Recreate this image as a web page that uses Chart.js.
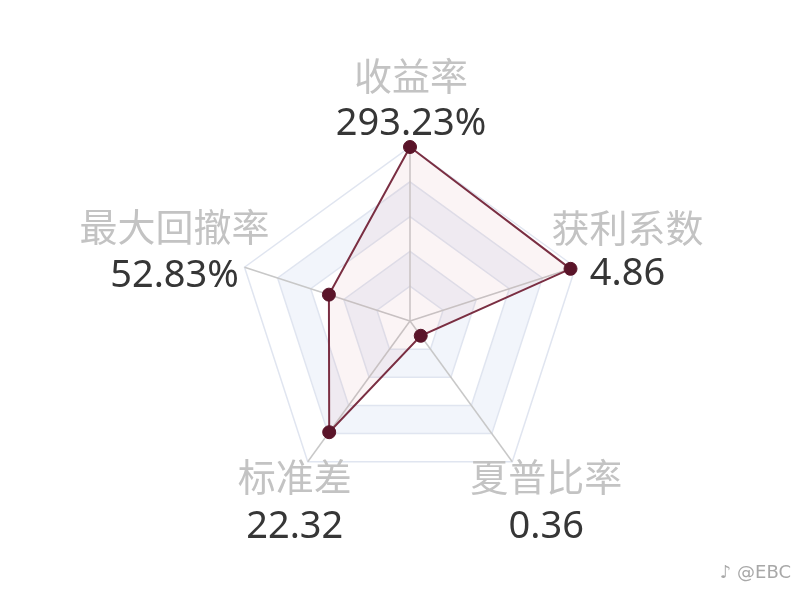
<!DOCTYPE html>
<html>
<head>
<meta charset="utf-8">
<script src="https://cdn.jsdelivr.net/npm/chart.js@4.4.0/dist/chart.umd.min.js"></script>
<style>
    html, body { margin: 0; padding: 0; background: #fff; }
    #wrap { width: 800px; height: 609px; position: relative; }
</style>
</head>
<body>
<div id="wrap"><canvas id="radarChart" width="800" height="609"></canvas></div>
<script>
// ===== DATA =====
const indicatorNames = ['收益率', '获利系数', '夏普比率', '标准差', '最大回撤率'];
const indicatorValues = ['293.23%', '4.86', '0.36', '22.32', '52.83%'];
// where each point sits on its axis, as a share of the outer ring (0-100)
const radarScores = [100, 97, 10.5, 79, 49];
const ringTicks = [0, 20, 40, 60, 80, 100];

// ===== PLUGINS =====
// Alternating bands between the rings (drawn under the grid)
const splitAreaPlugin = {
    id: 'splitArea',
    beforeDraw(chart) {
        const scale = chart.scales.r;
        const ctx = chart.ctx;
        const n = chart.data.labels.length;
        ctx.save();
        for (let k = ringTicks.length - 1; k > 0; k--) {
            ctx.beginPath();
            for (let i = 0; i < n; i++) {
                const p = scale.getPointPositionForValue(i, ringTicks[k]);
                if (i === 0) ctx.moveTo(p.x, p.y); else ctx.lineTo(p.x, p.y);
            }
            ctx.closePath();
            ctx.fillStyle = (k % 2 === 0) ? '#f2f5fb' : '#ffffff';
            ctx.fill();
        }
        ctx.restore();
    }
};

// Two-line labels: grey name, dark value
const labelOffsets = [
    // dx, name centre dy, value baseline dy
    [1, -71, -12],
    [52, -40, 18],
    [34, 15, 76],
    [-13, 15, 76],
    [-70, -41, 20]
];
const labelPlugin = {
    id: 'twoToneLabels',
    afterDraw(chart) {
        const scale = chart.scales.r;
        const ctx = chart.ctx;
        ctx.save();
        ctx.textAlign = 'center';
        indicatorNames.forEach((name, i) => {
            const p = scale.getPointPositionForValue(i, scale.max);
            const [dx, dyName, dyValue] = labelOffsets[i];
            ctx.font = '38px "Noto Sans CJK SC", sans-serif';
            ctx.fillStyle = '#c3c3c3';
            ctx.textBaseline = 'middle';
            ctx.fillText(name, p.x + dx, p.y + dyName);
            ctx.font = '38px "Noto Sans", sans-serif';
            ctx.fillStyle = '#363636';
            ctx.textBaseline = 'alphabetic';
            ctx.fillText(indicatorValues[i], p.x + dx, p.y + dyValue);
        });
        // watermark
        ctx.textAlign = 'right';
        ctx.textBaseline = 'middle';
        ctx.fillStyle = '#a8a8a8';
        ctx.font = '18px "DejaVu Sans", sans-serif';
        ctx.fillText('♪ @EBC', 791, 573);
        ctx.restore();
    }
};

// ===== CHART =====
const ctx = document.getElementById('radarChart');
new Chart(ctx, {
    type: 'radar',
    data: {
        labels: indicatorNames,
        datasets: [{
            data: radarScores,
            borderColor: '#7a2e42',
            borderWidth: 2,
            backgroundColor: 'rgba(205, 120, 130, 0.08)',
            fill: true,
            tension: 0,
            pointRadius: 6.5,
            pointBackgroundColor: '#5a1429',
            pointBorderColor: '#5a1429',
            pointBorderWidth: 1,
            clip: false
        }]
    },
    plugins: [splitAreaPlugin, labelPlugin],
    options: {
        responsive: false,
        animation: false,
        layout: {
            padding: { left: 236, right: 216, top: 147, bottom: 114 }
        },
        plugins: {
            legend: { display: false },
            tooltip: { enabled: false }
        },
        scales: {
            r: {
                min: 0,
                max: 100,
                ticks: { display: false, stepSize: 20 },
                pointLabels: { display: false },
                grid: { color: '#e0e5f0', lineWidth: 1.5 },
                angleLines: { color: '#c8c8c8', lineWidth: 1.5 }
            }
        }
    }
});
</script>
</body>
</html>
